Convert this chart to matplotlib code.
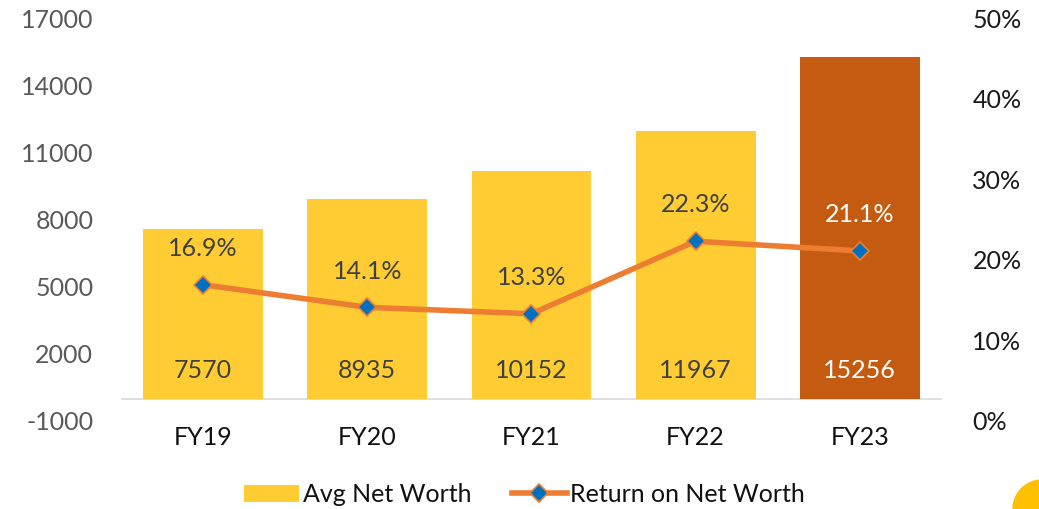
import matplotlib.pyplot as plt
from matplotlib.patches import Ellipse

plt.rcParams['font.family'] = ['Lato', 'DejaVu Sans']
plt.rcParams['axes.unicode_minus'] = False

years = ["FY19", "FY20", "FY21", "FY22", "FY23"]
net_worth = [7570, 8935, 10152, 11967, 15256]
ronw = [16.9, 14.1, 13.3, 22.3, 21.1]

bar_colors = ["#FFCD33"] * 4 + ["#C55A11"]
text_colors = ["#404040"] * 4 + ["white"]

fig = plt.figure(figsize=(10.39, 5.09), dpi=100)
ax = fig.add_axes([0.1165, 0.173, 0.79, 0.7916])
x = range(len(years))

bars = ax.bar(x, net_worth, width=0.73, color=bar_colors, zorder=2)
ax.axhline(0, color="#D9D9D9", lw=1.2, zorder=1)
ax.set_ylim(-1000, 17000)
ax.set_yticks(range(-1000, 17001, 3000))
ax.set_xlim(-0.5, len(years) - 0.5)
ax.set_xticks(list(x))
ax.set_xticklabels(years)
for s in ax.spines.values():
    s.set_visible(False)
ax.tick_params(axis="y", length=0, labelsize=18, labelcolor="#595959", pad=20)
ax.tick_params(axis="x", length=0, labelsize=18, labelcolor="#111111", pad=4)

# values inside the bars
for i, v in enumerate(net_worth):
    ax.text(i, 1250, str(v), ha="center", va="center", fontsize=18,
            color=text_colors[i], zorder=4)

ax2 = ax.twinx()
ax2.set_ylim(0, 50)
ax2.set_yticks(range(0, 51, 10))
ax2.set_yticklabels([f"{t}%" for t in range(0, 51, 10)])
for s in ax2.spines.values():
    s.set_visible(False)
ax2.tick_params(axis="y", length=0, labelsize=18, labelcolor="#1a1a1a", pad=22)

ax2.plot(list(x), ronw, color="#ED7D31", lw=4, marker="D", markersize=9,
         markerfacecolor="#0070C0", markeredgecolor="#ED7D31",
         markeredgewidth=1.2, zorder=3)
for i, v in enumerate(ronw):
    ax2.text(i, v + 4.5, f"{v}%", ha="center", va="center", fontsize=18,
             color=text_colors[i], zorder=4)

handles = [bars, ax2.lines[0]]
labels = ["Avg Net Worth", "Return on Net Worth"]
fig.legend(handles, labels, loc="center", bbox_to_anchor=(0.505, 0.028),
           ncol=2, frameon=False, fontsize=18, handlelength=2.2,
           handletextpad=0.15, columnspacing=1.6, labelcolor="#111111")

# decorative circle in the corner
fig.patches.append(Ellipse((1042 / 1039, 0.0), 2 * 29 / 1039, 2 * 29 / 509,
                           transform=fig.transFigure, color="#FFC000",
                           clip_on=False))

fig.savefig("out.png", dpi=100)
